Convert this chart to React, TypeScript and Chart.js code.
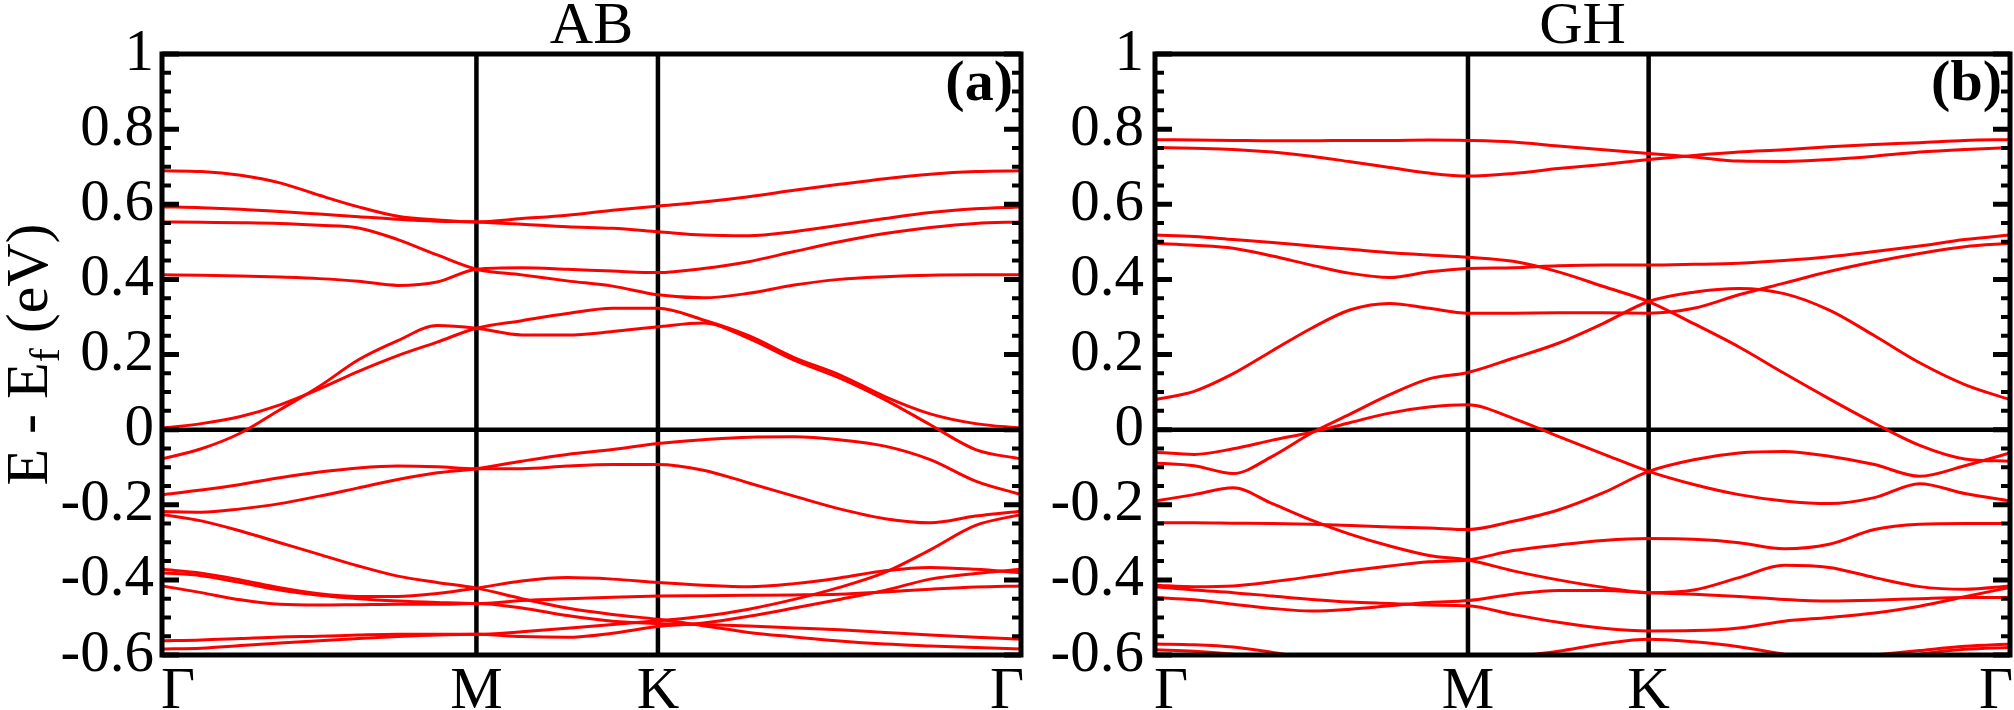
import React, { useEffect, useRef } from "react";
import { Chart, registerables } from "chart.js";

Chart.register(...registerables);

// ---- path through the hexagonal Brillouin zone: Γ – M – K – Γ ----
const kPath = [
  0, 0.0722, 0.1443, 0.2165, 0.2887, 0.3608, 0.433, 0.5052, 0.5774,
  0.6607, 0.744, 0.8274, 0.9107,
  0.994, 1.0774, 1.1607, 1.244, 1.3274, 1.4107, 1.494, 1.5774,
];
const kPointPos = [0, 0.5774, 0.9107, 1.5774];
const kPointLabels = ["Γ", "M", "K", "Γ"];
const yMin = -0.6;
const yMax = 1;
const yMajorStep = 0.2;
const yMinorStep = 0.05;
const panelTitles = ["AB", "GH"];
const panelTags = ["(a)", "(b)"];
const yTitleParts = ["E - E", "f", " (eV)"];

// ---- panel (a): AB bands, E - Ef (eV) at each kPath point ----
const abU1 = [0.689, 0.687, 0.677, 0.657, 0.624, 0.593, 0.568, 0.558, 0.553, 0.562, 0.571, 0.584, 0.595, 0.606, 0.62, 0.637, 0.653, 0.668, 0.68, 0.687, 0.689];
const abU2 = [0.593, 0.591, 0.587, 0.581, 0.574, 0.567, 0.56, 0.555, 0.553, 0.547, 0.54, 0.536, 0.527, 0.518, 0.516, 0.527, 0.544, 0.562, 0.578, 0.588, 0.593];
const abU3 = [0.553, 0.552, 0.551, 0.549, 0.544, 0.537, 0.506, 0.465, 0.427, 0.412, 0.396, 0.382, 0.359, 0.351, 0.363, 0.385, 0.4, 0.407, 0.411, 0.412, 0.412];
const abU4 = [0.412, 0.411, 0.409, 0.406, 0.402, 0.395, 0.384, 0.393, 0.427, 0.431, 0.427, 0.422, 0.418, 0.429, 0.447, 0.474, 0.5, 0.522, 0.538, 0.549, 0.553];
const abU5 = [0.004, 0.016, 0.035, 0.066, 0.108, 0.155, 0.197, 0.233, 0.27, 0.29, 0.309, 0.323, 0.323, 0.292, 0.25, 0.192, 0.146, 0.088, 0.042, 0.016, 0.004];
const abU6 = [-0.078, -0.051, -0.009, 0.053, 0.115, 0.186, 0.237, 0.277, 0.27, 0.252, 0.252, 0.261, 0.274, 0.284, 0.243, 0.185, 0.138, 0.08, 0.013, -0.053, -0.078];
const abN1 = [-0.173, -0.161, -0.146, -0.128, -0.113, -0.102, -0.097, -0.099, -0.104, -0.104, -0.097, -0.093, -0.093, -0.108, -0.142, -0.177, -0.211, -0.237, -0.248, -0.23, -0.217];
const abN2 = [-0.218, -0.22, -0.211, -0.197, -0.177, -0.155, -0.133, -0.115, -0.104, -0.084, -0.066, -0.053, -0.037, -0.027, -0.02, -0.019, -0.027, -0.044, -0.08, -0.137, -0.173];
const abN3 = [-0.226, -0.243, -0.27, -0.301, -0.332, -0.363, -0.39, -0.407, -0.422, -0.45, -0.475, -0.492, -0.505, -0.522, -0.54, -0.552, -0.563, -0.571, -0.576, -0.58, -0.584];
const abN4 = [-0.372, -0.382, -0.4, -0.421, -0.437, -0.444, -0.444, -0.436, -0.422, -0.403, -0.394, -0.398, -0.407, -0.414, -0.418, -0.41, -0.395, -0.376, -0.367, -0.372, -0.381];
const abN5 = [-0.381, -0.389, -0.407, -0.427, -0.441, -0.45, -0.456, -0.46, -0.463, -0.455, -0.45, -0.446, -0.443, -0.442, -0.441, -0.44, -0.438, -0.432, -0.425, -0.419, -0.416];
const abN6 = [-0.416, -0.434, -0.453, -0.465, -0.467, -0.466, -0.465, -0.465, -0.463, -0.475, -0.495, -0.51, -0.516, -0.519, -0.523, -0.528, -0.533, -0.54, -0.547, -0.553, -0.558];
const abN7 = [-0.562, -0.56, -0.556, -0.552, -0.55, -0.547, -0.545, -0.545, -0.545, -0.538, -0.529, -0.519, -0.509, -0.497, -0.478, -0.452, -0.42, -0.38, -0.32, -0.255, -0.226];
const abN8 = [-0.584, -0.582, -0.575, -0.568, -0.562, -0.556, -0.551, -0.547, -0.545, -0.551, -0.553, -0.542, -0.524, -0.515, -0.497, -0.475, -0.452, -0.428, -0.398, -0.383, -0.372];

// ---- panel (b): GH bands ----
const ghB1 = [0.772, 0.771, 0.77, 0.769, 0.769, 0.77, 0.77, 0.771, 0.77, 0.766, 0.755, 0.745, 0.735, 0.726, 0.715, 0.714, 0.719, 0.728, 0.739, 0.746, 0.751];
const ghB2 = [0.751, 0.749, 0.746, 0.739, 0.728, 0.713, 0.698, 0.683, 0.675, 0.682, 0.695, 0.706, 0.719, 0.73, 0.739, 0.745, 0.753, 0.759, 0.764, 0.77, 0.772];
const ghB3 = [0.518, 0.514, 0.506, 0.498, 0.489, 0.48, 0.471, 0.465, 0.459, 0.448, 0.42, 0.381, 0.341, 0.282, 0.22, 0.15, 0.082, 0.017, -0.042, -0.078, -0.084];
const ghB4 = [0.496, 0.491, 0.483, 0.462, 0.438, 0.416, 0.405, 0.42, 0.429, 0.431, 0.436, 0.438, 0.438, 0.44, 0.443, 0.45, 0.46, 0.474, 0.489, 0.506, 0.518];
const ghB5 = [0.08, 0.102, 0.149, 0.21, 0.27, 0.319, 0.336, 0.323, 0.31, 0.31, 0.311, 0.311, 0.31, 0.323, 0.359, 0.39, 0.421, 0.447, 0.469, 0.487, 0.496];
const ghB6 = [-0.089, -0.096, -0.117, -0.071, -0.009, 0.042, 0.093, 0.135, 0.152, 0.19, 0.23, 0.283, 0.341, 0.366, 0.376, 0.362, 0.318, 0.25, 0.178, 0.12, 0.08];
const ghB7 = [-0.06, -0.066, -0.051, -0.028, -0.007, 0.019, 0.044, 0.06, 0.066, 0.03, -0.018, -0.065, -0.111, -0.146, -0.173, -0.19, -0.197, -0.181, -0.144, -0.17, -0.19];
const ghB8 = [-0.248, -0.248, -0.249, -0.25, -0.252, -0.255, -0.259, -0.262, -0.266, -0.244, -0.214, -0.168, -0.111, -0.08, -0.062, -0.058, -0.071, -0.093, -0.124, -0.096, -0.062];
const ghB9 = [-0.19, -0.173, -0.155, -0.197, -0.241, -0.279, -0.31, -0.335, -0.347, -0.376, -0.4, -0.42, -0.434, -0.427, -0.394, -0.361, -0.367, -0.394, -0.418, -0.425, -0.416];
const ghB10 = [-0.414, -0.418, -0.416, -0.405, -0.391, -0.376, -0.363, -0.352, -0.347, -0.322, -0.307, -0.295, -0.29, -0.292, -0.301, -0.317, -0.305, -0.266, -0.252, -0.25, -0.25];
const ghB11 = [-0.418, -0.427, -0.434, -0.443, -0.452, -0.459, -0.463, -0.467, -0.469, -0.492, -0.513, -0.529, -0.536, -0.535, -0.528, -0.51, -0.5, -0.488, -0.47, -0.445, -0.42];
const ghB12 = [-0.447, -0.453, -0.465, -0.476, -0.483, -0.478, -0.469, -0.46, -0.455, -0.438, -0.428, -0.428, -0.434, -0.438, -0.444, -0.452, -0.456, -0.454, -0.45, -0.447, -0.447];
const ghB13 = [-0.571, -0.573, -0.579, -0.593, -0.61, -0.625, -0.632, -0.63, -0.622, -0.605, -0.59, -0.57, -0.558, -0.565, -0.578, -0.598, -0.612, -0.6, -0.588, -0.577, -0.571];
const ghB14 = [-0.586, -0.59, -0.598, -0.612, -0.63, -0.645, -0.655, -0.655, -0.65, -0.64, -0.635, -0.632, -0.63, -0.635, -0.645, -0.65, -0.64, -0.62, -0.598, -0.585, -0.58];

const abBands = [abU1, abU2, abU3, abU4, abU5, abU6, abN1, abN2, abN3, abN4, abN5, abN6, abN7, abN8];
const ghBands = [ghB1, ghB2, ghB3, ghB4, ghB5, ghB6, ghB7, ghB8, ghB9, ghB10, ghB11, ghB12, ghB13, ghB14];

const SERIF = '"Liberation Serif", "Times New Roman", serif';
const CANVAS_H = 710;
const AREA_TOP = 54;
const AREA_BOTTOM = 655;

type PanelSpec = {
  canvasLeft: number;
  canvasWidth: number;
  areaLeft: number;
  areaRight: number;
  labelPad: number;
  title: string;
  tag: string;
  bands: number[][];
  showYTitle: boolean;
};

const panels: PanelSpec[] = [
  { canvasLeft: 0, canvasWidth: 1040, areaLeft: 162, areaRight: 1021, labelPad: 8, title: panelTitles[0], tag: panelTags[0], bands: abBands, showYTitle: true },
  { canvasLeft: 1040, canvasWidth: 974, areaLeft: 115, areaRight: 970, labelPad: 11, title: panelTitles[1], tag: panelTags[1], bands: ghBands, showYTitle: false },
];

function decorPlugin(spec: PanelSpec) {
  return {
    id: "bandDecor",
    beforeDatasetsDraw(chart: any) {
      const { ctx, chartArea: a, scales } = chart;
      const x = scales.x;
      const y = scales.y;
      ctx.save();
      ctx.strokeStyle = "#000";
      ctx.lineWidth = 4.5;
      ctx.beginPath();
      for (const k of kPointPos.slice(1, kPointPos.length - 1)) {
        const px = x.getPixelForValue(k);
        ctx.moveTo(px, a.top);
        ctx.lineTo(px, a.bottom);
      }
      const y0 = y.getPixelForValue(0);
      ctx.moveTo(a.left, y0);
      ctx.lineTo(a.right, y0);
      ctx.stroke();
      ctx.restore();
    },
    afterDraw(chart: any) {
      const { ctx, chartArea: a, scales } = chart;
      const x = scales.x;
      const y = scales.y;
      ctx.save();
      // frame
      ctx.strokeStyle = "#000";
      ctx.lineWidth = 5;
      ctx.strokeRect(a.left, a.top, a.right - a.left, a.bottom - a.top);
      // inward ticks on left and right axes
      const n = Math.round((yMax - yMin) / yMinorStep);
      const perMajor = Math.round(yMajorStep / yMinorStep);
      for (let i = 0; i <= n; i++) {
        const v = yMin + i * yMinorStep;
        const py = y.getPixelForValue(v);
        const major = i % perMajor === 0;
        const len = major ? 17 : 9;
        ctx.lineWidth = major ? 5 : 4;
        ctx.beginPath();
        ctx.moveTo(a.left, py);
        ctx.lineTo(a.left + len, py);
        ctx.moveTo(a.right, py);
        ctx.lineTo(a.right - len, py);
        ctx.stroke();
      }
      // k-point labels
      ctx.fillStyle = "#000";
      ctx.font = `59px ${SERIF}`;
      ctx.textBaseline = "alphabetic";
      kPointPos.forEach((k, i) => {
        const px = x.getPixelForValue(k);
        if (i === 0) {
          ctx.textAlign = "left";
          ctx.fillText(kPointLabels[i], px - 1, 708);
        } else if (i === kPointPos.length - 1) {
          ctx.textAlign = "right";
          ctx.fillText(kPointLabels[i], px + 3, 708);
        } else {
          ctx.textAlign = "center";
          ctx.fillText(kPointLabels[i], px, 708);
        }
      });
      // title
      ctx.font = `60px ${SERIF}`;
      ctx.textAlign = "center";
      ctx.fillText(spec.title, (a.left + a.right) / 2, 43);
      // panel tag
      ctx.font = `bold 58px ${SERIF}`;
      ctx.textAlign = "right";
      ctx.fillText(spec.tag, a.right - 8, 100);
      // y-axis title with subscript
      if (spec.showYTitle) {
        const big = `60px ${SERIF}`;
        const small = `42px ${SERIF}`;
        ctx.font = big;
        const w0 = ctx.measureText(yTitleParts[0]).width;
        const w2 = ctx.measureText(yTitleParts[2]).width;
        ctx.font = small;
        const w1 = ctx.measureText(yTitleParts[1]).width;
        const total = w0 + w1 + w2;
        ctx.translate(47, (a.top + a.bottom) / 2);
        ctx.rotate(-Math.PI / 2);
        ctx.textAlign = "left";
        let cx = -total / 2;
        ctx.font = big;
        ctx.fillText(yTitleParts[0], cx, 0);
        cx += w0;
        ctx.font = small;
        ctx.fillText(yTitleParts[1], cx, 12);
        cx += w1;
        ctx.font = big;
        ctx.fillText(yTitleParts[2], cx, 0);
      }
      ctx.restore();
    },
  };
}

function buildConfig(spec: PanelSpec): any {
  return {
    type: "line",
    data: {
      datasets: spec.bands.map((band) => ({
        data: kPath.map((k, i) => ({ x: k, y: band[i] })),
        borderColor: "#ff0000",
        borderWidth: 3,
        pointRadius: 0,
        pointHoverRadius: 0,
        fill: false,
        cubicInterpolationMode: "monotone",
        clip: 0,
      })),
    },
    options: {
      animation: false,
      responsive: false,
      maintainAspectRatio: false,
      events: [],
      layout: {
        padding: { top: AREA_TOP, right: spec.canvasWidth - spec.areaRight, left: 0, bottom: 0 },
      },
      plugins: {
        legend: { display: false },
        tooltip: { enabled: false },
        title: { display: false },
      },
      scales: {
        x: {
          type: "linear",
          min: kPointPos[0],
          max: kPointPos[kPointPos.length - 1],
          grid: { display: false, drawTicks: false },
          border: { display: false },
          ticks: { display: false },
          afterFit: (s: any) => {
            s.height = CANVAS_H - AREA_BOTTOM;
          },
        },
        y: {
          type: "linear",
          min: yMin,
          max: yMax,
          grid: { display: false, drawTicks: false },
          border: { display: false },
          ticks: {
            stepSize: yMajorStep,
            autoSkip: false,
            padding: spec.labelPad,
            color: "#000",
            font: { family: SERIF, size: 59 },
            callback: (v: number) => {
              const r = Math.round(v * 10) / 10;
              return r === 0 ? "0" : String(r);
            },
          },
          afterFit: (s: any) => {
            s.width = spec.areaLeft;
          },
        },
      },
    },
    plugins: [decorPlugin(spec)],
  };
}

function BandPanel({ spec }: { spec: PanelSpec }) {
  const ref = useRef<HTMLCanvasElement | null>(null);
  useEffect(() => {
    if (!ref.current) return;
    const chart = new Chart(ref.current, buildConfig(spec));
    return () => chart.destroy();
  }, [spec]);
  return (
    <canvas
      ref={ref}
      width={spec.canvasWidth}
      height={CANVAS_H}
      style={{ position: "absolute", left: spec.canvasLeft, top: 0, width: spec.canvasWidth, height: CANVAS_H }}
    />
  );
}

export default function App() {
  return (
    <div style={{ position: "absolute", left: 0, top: 0, width: 2014, height: CANVAS_H, background: "#fff", overflow: "hidden" }}>
      {panels.map((p, i) => (
        <BandPanel key={i} spec={p} />
      ))}
    </div>
  );
}
